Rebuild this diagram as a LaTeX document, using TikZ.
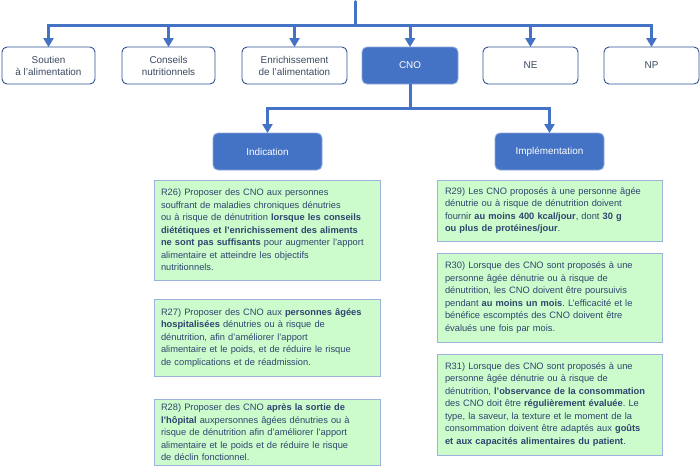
\documentclass[tikz,border=0pt]{standalone}
\usepackage{fontspec}
\setmainfont{Liberation Sans}
\usetikzlibrary{arrows.meta}
\frenchspacing
\definecolor{arrowblue}{HTML}{4472C4}
\definecolor{boxborder}{HTML}{2F528F}
\definecolor{fillborder}{HTML}{8FAADC}
\definecolor{labeltext}{HTML}{3A4A60}
\definecolor{greenfill}{HTML}{CCFCCB}
\definecolor{greenborder}{HTML}{9DB3DD}
\definecolor{recotext}{HTML}{2F4470}
\tikzset{
  topbox/.style={draw=boxborder, line width=0.9pt, rounded corners=5pt, fill=white,
    minimum width=93pt, minimum height=37pt, align=center, text=labeltext,
    font=\fontsize{9.9}{12}\selectfont, inner sep=0pt},
  bluebox/.style={draw=fillborder, line width=0.9pt, rounded corners=5pt, fill=arrowblue,
    minimum height=37pt, align=center, text=white,
    font=\fontsize{9.9}{12}\selectfont, inner sep=0pt},
  recobox/.style={draw=greenborder, line width=0.9pt, fill=greenfill, text=recotext,
    align=left, font=\fontsize{9.3}{12.5}\selectfont, inner ysep=0pt},
  conn/.style={draw=arrowblue, line width=3pt},
  arr/.style={draw=arrowblue, line width=3pt, -{Triangle[width=10pt,length=9pt]}, shorten >=-0.5pt},
}
\begin{document}
\begin{tikzpicture}[x=1pt,y=-1pt]
\useasboundingbox (0,0) rectangle (700,467);
% top level boxes
\node[topbox] (soutien) at (48.5,65.5) {Soutien\\à l’alimentation};
\node[topbox] (conseils) at (168.5,65.5) {Conseils\\nutritionnels};
\node[topbox, minimum width=105pt] (enrich) at (294.5,65.5) {Enrichissement\\de l’alimentation};
\node[bluebox, minimum width=96pt] (cno) at (410,65.5) {CNO};
\node[topbox, minimum width=95pt] (ne) at (530.5,65.5) {NE};
\node[topbox, minimum width=95pt] (np) at (651.5,65.5) {NP};
% connectors top
\coordinate (topend) at (355,1.5);
\coordinate (bus) at (355,25);
\draw[conn, line cap=round] (topend) -- (bus);
\draw[conn, line cap=rect] (soutien.north |- bus) -- (np.north |- bus);
\foreach \n in {soutien,conseils,enrich,cno,ne,np}
  \draw[arr] (\n.north |- bus) -- (\n.north);
% second level
\node[bluebox, minimum width=109pt] (indic) at (267.5,151.5) {Indication};
\node[bluebox, minimum width=109pt] (impl) at (549.5,151.5) {Implémentation};
\coordinate (bus2) at (410,108.5);
\draw[conn] (cno.south) -- (bus2);
\draw[conn, line cap=rect] (indic.north |- bus2) -- (impl.north |- bus2);
\draw[arr] (indic.north |- bus2) -- (indic.north);
\draw[arr] (impl.north |- bus2) -- (impl.north);
% recommendations left
\node[recobox, minimum width=226pt, minimum height=100pt, inner xsep=7pt, text width=212pt] (r26) at (267,230)
 {R26) Proposer des CNO aux personnes\\souffrant de maladies chroniques dénutries\\ou à risque de dénutrition \textbf{lorsque les conseils}\\\textbf{diététiques et l’enrichissement des aliments}\\\textbf{ne sont pas suffisants} pour augmenter l’apport\\alimentaire et atteindre les objectifs\\nutritionnels.};
\node[recobox, minimum width=226pt, minimum height=77pt, inner xsep=7pt, text width=212pt] (r27) at (267,337.5)
 {R27) Proposer des CNO aux \textbf{personnes âgées}\\\textbf{hospitalisées} dénutries ou à risque de\\dénutrition, afin d’améliorer l’apport\\alimentaire et le poids, et de réduire le risque\\de complications et de réadmission.};
\node[recobox, minimum width=226pt, minimum height=66pt, inner xsep=7pt, text width=212pt] (r28) at (267,432.5)
 {R28) Proposer des CNO \textbf{après la sortie de}\\\textbf{l’hôpital} auxpersonnes âgées dénutries ou à\\risque de dénutrition afin d’améliorer l’apport\\alimentaire et le poids et de réduire le risque\\de déclin fonctionnel.};
% recommendations right
\node[recobox, minimum width=225pt, minimum height=61pt, inner xsep=8pt, text width=209pt] (r29) at (549.5,210.5)
 {R29) Les CNO proposés à une personne âgée\\dénutrie ou à risque de dénutrition doivent\\fournir \textbf{au moins 400 kcal/jour}, dont \textbf{30 g}\\\textbf{ou plus de protéines/jour}.};
\node[recobox, minimum width=225pt, minimum height=89pt, inner xsep=8pt, text width=209pt] (r30) at (549.5,297.5)
 {R30) Lorsque des CNO sont proposés à une\\personne âgée dénutrie ou à risque de\\dénutrition, les CNO doivent être poursuivis\\pendant \textbf{au moins un mois}. L’efficacité et le\\bénéfice escomptés des CNO doivent être\\évalués une fois par mois.};
\node[recobox, minimum width=225pt, minimum height=101pt, inner xsep=8pt, text width=209pt] (r31) at (549.5,404.5)
 {R31) Lorsque des CNO sont proposés à une\\personne âgée dénutrie ou à risque de\\dénutrition, \textbf{l’observance de la consommation}\\des CNO doit être \textbf{régulièrement évaluée}. Le\\type, la saveur, la texture et le moment de la\\consommation doivent être adaptés aux \textbf{goûts}\\\textbf{et aux capacités alimentaires du patient}.};
\end{tikzpicture}
\end{document}
